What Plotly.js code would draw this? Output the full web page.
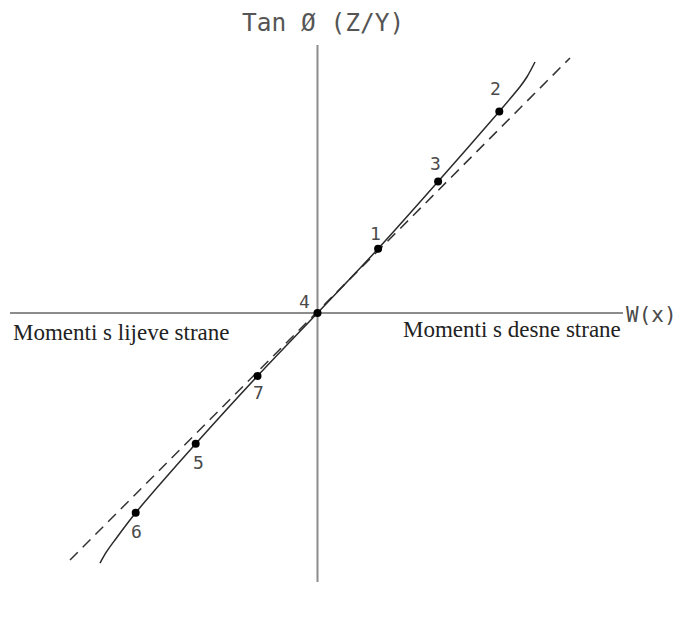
<!DOCTYPE html>
<html>
<head>
<meta charset="utf-8">
<script src="https://cdn.plot.ly/plotly-3.0.1.min.js"></script>
<style>
  html, body { margin: 0; padding: 0; background: #fff; }
  #chart { width: 683px; height: 619px; }
</style>
</head>
<body>
<div id="chart"></div>
<script>
// measured points (1 unit ~ 60px in the original drawing)
const pointLabels = ['1', '2', '3', '4', '5', '6', '7'];
const pointX = [1.01, 3.03, 2.01, 0, -2.03, -3.03, -1.0];
const pointY = [1.07, 3.36, 2.19, 0, -2.18, -3.33, -1.05];

// solid measured curve, bottom to top
const curveX = [-3.625, -3.515, -3.375, -3.03, -2.03, -1.0, 0, 1.01, 2.01, 3.03, 3.375, 3.49, 3.625];
const curveY = [-4.167, -3.978, -3.783, -3.33, -2.18, -1.05, 0, 1.07, 2.19, 3.36, 3.772, 3.933, 4.183];

// dashed ideal line
const idealX = [-4.125, 4.208];
const idealY = [-4.117, 4.25];

const labelShift = [[-3, 15], [-4, 23], [-3, 18], [-13, 12], [3, -19], [1, -19], [1, -16]];

const monoFont = { family: 'DejaVu Sans Mono, monospace', size: 18, color: '#4a4a4a' };
const serifFont = { family: 'Liberation Serif, Times New Roman, serif', size: 23, color: '#222' };

const ideal = {
  x: idealX, y: idealY,
  mode: 'lines',
  line: { color: '#333', width: 1.5, dash: '11px,7px' },
  hoverinfo: 'skip'
};

const curve = {
  x: curveX, y: curveY,
  mode: 'lines',
  line: { color: '#2a2a2a', width: 1.5, shape: 'spline', smoothing: 0.8 },
  hoverinfo: 'skip'
};

const points = {
  x: pointX, y: pointY,
  mode: 'markers',
  marker: { color: '#000', size: 8 },
  text: pointLabels
};

const annotations = pointLabels.map((t, i) => ({
  x: pointX[i], y: pointY[i], text: t, showarrow: false,
  xshift: labelShift[i][0], yshift: labelShift[i][1],
  font: monoFont
}));

annotations.push(
  { x: 5.56, y: -0.03, text: 'W(x)', showarrow: false,
    font: { family: 'DejaVu Sans Mono, monospace', size: 21, color: '#4a4a4a' } },
  { x: 3.24, y: -0.27, text: 'Momenti s desne strane', showarrow: false, font: serifFont },
  { x: -3.27, y: -0.32, text: 'Momenti s lijeve strane', showarrow: false, font: serifFont }
);

const layout = {
  width: 683, height: 619,
  margin: { l: 0, r: 0, t: 0, b: 0 },
  paper_bgcolor: '#fff',
  plot_bgcolor: '#fff',
  showlegend: false,
  title: {
    text: 'Tan Ø (Z/Y)',
    x: 0.473, xanchor: 'center',
    y: 0.964, yanchor: 'middle',
    font: { family: 'DejaVu Sans Mono, monospace', size: 24.5, color: '#555' }
  },
  xaxis: { range: [-5.2917, 6.0917], visible: false, fixedrange: true },
  yaxis: { range: [-5.1, 5.2167], visible: false, fixedrange: true },
  shapes: [
    { type: 'line', x0: -5.125, x1: 5.092, y0: 0, y1: 0, line: { color: '#8c8c8c', width: 2 }, layer: 'below' },
    { type: 'line', x0: 0, x1: 0, y0: -4.483, y1: 4.467, line: { color: '#8c8c8c', width: 2 }, layer: 'below' }
  ],
  annotations: annotations
};

Plotly.newPlot('chart', [ideal, curve, points], layout, { staticPlot: true });
</script>
</body>
</html>
